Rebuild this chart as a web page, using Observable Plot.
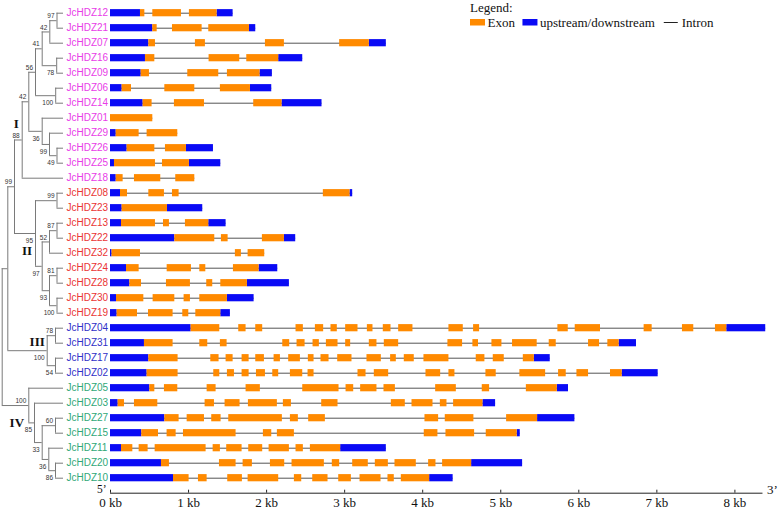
<!DOCTYPE html>
<html><head><meta charset="utf-8">
<script src="https://cdn.jsdelivr.net/npm/d3@7"></script>
<script src="https://cdn.jsdelivr.net/npm/@observablehq/plot@0.6"></script>
<style>
body{margin:0;background:#fff}
#wrap{position:relative;width:778px;height:510px;overflow:hidden}
#wrap svg{position:absolute;left:0;top:0}
</style>
</head><body><div id="wrap"></div>
<script>
// ---------- data ----------
const genes = ["JcHDZ12","JcHDZ21","JcHDZ07","JcHDZ16","JcHDZ09","JcHDZ06","JcHDZ14","JcHDZ01","JcHDZ29","JcHDZ26","JcHDZ25","JcHDZ18",
  "JcHDZ08","JcHDZ23","JcHDZ13","JcHDZ22","JcHDZ32","JcHDZ24","JcHDZ28","JcHDZ30","JcHDZ19",
  "JcHDZ04","JcHDZ31","JcHDZ17","JcHDZ02",
  "JcHDZ05","JcHDZ03","JcHDZ27","JcHDZ15","JcHDZ11","JcHDZ20","JcHDZ10"];
const subfamily = ["I","I","I","I","I","I","I","I","I","I","I","I",
  "II","II","II","II","II","II","II","II","II",
  "III","III","III","III",
  "IV","IV","IV","IV","IV","IV","IV"];
const subfamilyNames = ["I","II","III","IV"];
const subfamilyColors = ["#e83ce8","#ea3434","#3030c8","#30a878"];

// upstream/downstream (UTR) segments in kb, one list per gene
const utrs = [
 [[0,0.384],[1.366,1.571]],
 [[0,0.542],[1.78,1.861]],
 [[0,0.491],[3.316,3.534]],
 [[0,0.448],[2.155,2.463]],
 [[0,0.393],[1.916,2.074]],
 [[0,0.149],[1.793,2.066]],
 [[0,0.418],[2.198,2.71]],
 [],
 [[0,0.073]],
 [[0,0.213],[0.973,1.319]],
 [[0,0.051],[1.011,1.413]],
 [[0,0.073]],
 [[0,0.128],[3.069,3.103]],
 [[0,0.149],[0.73,1.182]],
 [[0,0.141],[1.259,1.481]],
 [[0,0.824],[2.228,2.373]],
 [[0,0.02]],
 [[0,0.205],[1.904,2.143]],
 [[0,0.248],[1.754,2.292]],
 [[0,0.077],[1.498,1.84]],
 [[0,0.085],[1.413,1.536]],
 [[0,1.033],[7.896,8.395]],
 [[0,0.435],[6.517,6.739]],
 [[0,0.491],[5.43,5.634]],
 [[0,0.469],[6.556,7.017]],
 [[0,0.504],[5.725,5.868]],
 [[0,0.098],[4.772,4.934]],
 [[0,0.696],[5.472,5.95]],
 [[0,0.401],[5.211,5.25]],
 [[0,0.141],[2.949,3.534]],
 [[0,0.653],[4.627,5.28]],
 [[0,0.807],[4.089,4.39]]
];

// exon segments in kb, one list per gene
const exons = [
 [[0.384,0.44],[0.542,0.909],[1.011,1.366]],
 [[0.542,0.598],[0.794,1.174],[1.259,1.78]],
 [[0.491,0.576],[1.088,1.216],[1.985,2.228],[2.936,3.316]],
 [[0.448,0.568],[1.263,1.656],[1.746,2.155]],
 [[0.393,0.499],[0.99,1.387],[1.498,1.916]],
 [[0.149,0.269],[0.696,1.08],[1.408,1.793]],
 [[0.418,0.533],[0.819,1.204],[1.835,2.198]],
 [[0,0.542]],
 [[0.073,0.367],[0.469,0.862]],
 [[0.213,0.568],[0.704,0.973]],
 [[0.051,0.576],[0.666,1.011]],
 [[0.073,0.162],[0.307,0.644],[0.836,1.08]],
 [[0.128,0.218],[0.491,0.691],[0.794,0.879],[2.727,3.069]],
 [[0.149,0.73]],
 [[0.141,0.576],[0.679,0.755],[0.96,1.259]],
 [[0.824,1.336],[1.421,1.507],[1.946,2.228]],
 [[0.02,0.384],[1.6,1.677],[1.763,1.976]],
 [[0.205,0.367],[0.726,1.037],[1.144,1.221],[1.575,1.904]],
 [[0.248,0.397],[0.717,1.024],[1.233,1.31],[1.413,1.754]],
 [[0.077,0.427],[0.546,0.824],[0.943,1.024],[1.144,1.498]],
 [[0.085,0.346],[0.487,0.802],[0.926,1.003],[1.093,1.413]],
 [[1.033,1.4],[1.643,1.737],[1.861,1.95],[2.377,2.471],[2.625,2.731],[2.825,2.906],[3.013,3.171],[3.291,3.363],[3.495,3.594],[3.692,3.875],[4.336,4.52],[4.652,4.729],[5.732,5.865],[5.954,6.278],[6.837,6.94],[7.328,7.473],[7.751,7.896]],
 [[0.435,0.802],[1.144,1.246],[1.408,1.494],[2.207,2.296],[2.39,2.493],[2.595,2.676],[2.766,2.915],[3.013,3.077],[3.316,3.414],[3.508,3.692],[4.323,4.511],[4.643,4.715],[4.887,5.015],[5.151,5.467],[5.621,5.711],[6.125,6.266],[6.372,6.517]],
 [[0.491,0.866],[1.285,1.391],[1.481,1.571],[1.686,1.776],[1.861,1.972],[2.096,2.177],[2.283,2.433],[2.535,2.608],[2.697,2.8],[2.911,3.094],[3.286,3.47],[3.589,3.662],[3.764,3.892],[4.016,4.336],[4.686,4.797],[4.904,5.045],[5.289,5.43]],
 [[0.469,0.866],[1.323,1.4],[1.498,1.588],[1.686,1.776],[1.87,1.985],[2.079,2.155],[2.305,2.463],[2.531,2.608],[3.171,3.274],[3.38,3.564],[4.042,4.23],[4.336,4.413],[4.81,4.942],[5.245,5.575],[5.741,5.839],[5.976,6.125],[6.406,6.556]],
 [[0.504,0.568],[0.691,0.862],[1.238,1.353],[1.737,1.92],[2.463,2.928],[3.018,3.116],[3.205,3.414],[3.504,3.65],[4.166,4.431],[4.763,4.857],[5.328,5.725]],
 [[0.098,0.179],[0.307,0.606],[1.212,1.332],[1.468,1.66],[1.767,2.138],[2.215,2.318],[2.706,2.915],[3.598,3.777],[3.863,4.132],[4.226,4.311],[4.396,4.772]],
 [[0.696,0.879],[0.982,1.204],[1.297,1.417],[1.515,2.202],[2.305,2.407],[2.539,2.753],[4.029,4.204],[4.289,4.656],[5.075,5.472]],
 [[0.401,0.615],[0.725,0.841],[0.935,1.609],[1.959,2.066],[2.138,2.356],[4.02,4.195],[4.298,4.665],[4.814,5.211]],
 [[0.141,0.286],[0.367,0.482],[0.572,1.225],[1.315,1.408],[1.489,1.686],[1.771,1.95],[2.032,2.292],[2.377,2.471],[2.561,2.949]],
 [[0.653,0.755],[1.396,1.609],[1.699,1.818],[2.049,2.232],[2.326,2.74],[2.842,2.936],[3.103,3.303],[3.393,3.56],[3.645,3.918],[4.076,4.17],[4.255,4.627]],
 [[0.807,1.007],[1.127,1.238],[1.502,1.69],[1.763,2.155],[2.356,2.45],[2.591,2.787],[2.924,3.086],[3.197,3.466],[3.555,3.636],[3.726,4.089]]
];

// tree: internal nodes [id, child A, child B, bootstrap, node depth] (children listed before parents)
const treeNodes = [
 ["n1","JcHDZ12","JcHDZ21",97,54.8],
 ["n2","n1","JcHDZ07",42,47.6],
 ["n3","JcHDZ16","JcHDZ09",78,54.5],
 ["n4","n2","n3",41,40],
 ["n5","JcHDZ06","JcHDZ14",100,53.5],
 ["n6","n4","n5",56,33.3],
 ["n7","JcHDZ26","JcHDZ25",49,54.8],
 ["n8","JcHDZ29","n7",99,47.3],
 ["n9","JcHDZ01","n8",36,40],
 ["n10","n6","n9",42,26.6],
 ["nI","n10","JcHDZ18",88,20],
 ["n12","JcHDZ08","JcHDZ23",99,54.8],
 ["n13","JcHDZ13","JcHDZ22",87,54.8],
 ["n14","n13","JcHDZ32",52,47.3],
 ["n15","JcHDZ24","JcHDZ28",81,54.8],
 ["n16","JcHDZ30","JcHDZ19",100,54.8],
 ["n17","n15","n16",93,47.3],
 ["n18","n14","n17",97,40],
 ["nII","n12","n18",95,33.3],
 ["nI_II","nI","nII",99,12.3],
 ["n21","JcHDZ04","JcHDZ31",78,53.3],
 ["n22","JcHDZ17","JcHDZ02",54,53.3],
 ["nIII","n21","n22",100,45],
 ["n24","nI_II","nIII",null,5.6],
 ["n25","JcHDZ20","JcHDZ10",86,53.3],
 ["n26","JcHDZ11","n25",36,46.6],
 ["n27","JcHDZ27","JcHDZ15",60,53.3],
 ["n28","n27","n26",33,40],
 ["n29","JcHDZ03","n28",85,32.3],
 ["nIV","JcHDZ05","n29",100,26.6],
 ["root","n24","nIV",null,0]
];
const leafDepth = 61.3;
// bootstrap values printed below their node's branch (others above)
const bootBelow = ["n3","n5","n7","n8","n9","nII","n18","n17","n16","nIII","n22","n29","n28","n26","n25"];
// subfamily labels attached to nodes
const cladeLabels = [["I","nI"],["II","nII"],["III","nIII"],["IV","nIV"]];
const kbTicks = [0,1,2,3,4,5,6,7,8];
const axisEndKb = 8.36;

// ---------- layout helpers ----------
const PX_PER_KB = 78.05, ORIGIN_PX = 110, ROOT_PX = 1.7;
const depthToKb = d => (ROOT_PX + d - ORIGIN_PX) / PX_PER_KB;
const colorOf = Object.fromEntries(subfamilyNames.map((s,i)=>[s,subfamilyColors[i]]));

const pos = new Map();
genes.forEach((g,i)=>pos.set(g,{x:leafDepth,y:i}));
for (const [id,a,b,boot,depth] of treeNodes) {
  pos.set(id,{x:depth,y:(pos.get(a).y+pos.get(b).y)/2});
}
const vLinks = [], hLinks = [], boots = [];
for (const [id,a,b,boot,depth] of treeNodes) {
  const pa = pos.get(a), pb = pos.get(b), p = pos.get(id);
  vLinks.push({x:depthToKb(depth), y1:pa.y, y2:pb.y});
  for (const c of [pa,pb]) hLinks.push({y:c.y, x1:depthToKb(depth), x2:depthToKb(c.x)});
  if (boot != null) boots.push({x:depthToKb(depth), y:p.y, text:String(boot), below:bootBelow.includes(id)});
}

const labelRows = genes.map((g,i)=>({g, i, sub:subfamily[i]}));
const segs = [];
genes.forEach((g,i)=>{
  for (const [s,e] of utrs[i]) segs.push({i, x1:s, x2:e, kind:"upstream/downstream"});
  for (const [s,e] of exons[i]) segs.push({i, x1:s, x2:e, kind:"Exon"});
});
const geneSpan = genes.map((g,i)=>{
  const all = [...utrs[i], ...exons[i]];
  return {i, x1:d3.min(all,d=>d[0]), x2:d3.max(all,d=>d[1])};
});

// clade label offsets (px) relative to their node
const cladeOffset = {I:[-6,-16.5], II:[-8.5,17.5], III:[-10,-8.5], IV:[-12,17.5]};

const SERIF = "'Liberation Serif','Times New Roman',serif";
const SANS = "'Liberation Sans',Arial,sans-serif";

const marks = [
  // tree
  Plot.ruleX(vLinks, {x:"x", y1:"y1", y2:"y2", stroke:"#7a7a7a", strokeWidth:1}),
  Plot.ruleY(hLinks, {y:"y", x1:"x1", x2:"x2", stroke:"#7a7a7a", strokeWidth:1}),
  Plot.text(boots.filter(d=>!d.below), {x:"x", y:"y", text:"text", textAnchor:"end", dx:-2.5, dy:-4.5, fontSize:6.5, fill:"#333"}),
  Plot.text(boots.filter(d=>d.below), {x:"x", y:"y", text:"text", textAnchor:"end", dx:-2.5, dy:7.5, fontSize:6.5, fill:"#333"}),
  ...cladeLabels.map(([lab,node])=>Plot.text([pos.get(node)], {
    x:d=>depthToKb(d.x), y:"y", text:()=>lab, dx:cladeOffset[lab][0], dy:cladeOffset[lab][1],
    fontFamily:SERIF, fontWeight:"bold", fontSize:13, fill:"#111"})),
  // gene labels
  Plot.text(labelRows, {x:()=>depthToKb(leafDepth), y:"i", text:"g", textAnchor:"start", dx:3, fontSize:10, fontFamily:SANS, fill:d=>colorOf[d.sub]}),
  // gene structures
  Plot.ruleY(geneSpan, {y:"i", x1:"x1", x2:"x2", stroke:"#555", strokeWidth:1}),
  Plot.rect(segs, {x1:"x1", x2:"x2", y1:d=>d.i-0.5, y2:d=>d.i+0.5, insetTop:3.9, insetBottom:3.9, fill:d=>d.kind==="Exon"?"#ff8a00":"#0a0af5"}),
  // kb axis
  Plot.ruleY([genes.length], {x1:()=>0, x2:()=>axisEndKb, stroke:"#222", strokeWidth:1}),
  Plot.ruleX(kbTicks, {x:d=>d, y1:()=>genes.length-0.2, y2:()=>genes.length, stroke:"#222"}),
  Plot.text(kbTicks, {x:d=>d, y:()=>genes.length, text:d=>`${d} kb`, dy:9.5, fontFamily:SERIF, fontSize:13, fill:"#111"}),
  Plot.text(["5\u2019"], {x:()=>0, y:()=>genes.length, text:d=>d, textAnchor:"end", dx:-4, dy:-3.5, fontFamily:SERIF, fontSize:11.5, fill:"#111"}),
  Plot.text(["3\u2019"], {x:()=>axisEndKb, y:()=>genes.length, text:d=>d, textAnchor:"start", dx:4, dy:-3, fontFamily:SERIF, fontSize:13, fill:"#111"})
];

const chart = Plot.plot({
  width:778, height:510,
  margin:0,
  style:{fontFamily:SANS, background:"transparent"},
  x:{domain:[0,8], range:[ORIGIN_PX, ORIGIN_PX+8*PX_PER_KB], axis:null},
  y:{domain:[0,genes.length-1], range:[12.7,477.7], axis:null},
  marks
});
const wrap = document.getElementById("wrap");
wrap.appendChild(chart);

// legend overlay
const legendItems = [
  {label:"Exon", kind:"rect", color:"#ff8a00"},
  {label:"upstream/downstream", kind:"rect", color:"#0a0af5"},
  {label:"Intron", kind:"line", color:"#222"}
];
const gaps = [7.5, 9];
const leg = d3.create("svg").attr("width",778).attr("height",32)
  .style("font-family",SERIF).style("font-size","13px");
leg.append("text").attr("x",470).attr("y",11.5).attr("fill","#111").text("Legend:");
const shapes = [], texts = [];
legendItems.forEach(it=>{
  shapes.push(it.kind==="rect"
    ? leg.append("rect").attr("y",19).attr("width",15).attr("height",6.5).attr("fill",it.color).node()
    : leg.append("line").attr("y1",22.5).attr("y2",22.5).attr("stroke",it.color).node());
  texts.push(leg.append("text").attr("y",26.5).attr("fill","#111").text(it.label).node());
});
wrap.appendChild(leg.node());
{
  let x = 470;
  legendItems.forEach((it,k)=>{
    const sh = shapes[k];
    if (it.kind==="rect") sh.setAttribute("x",x); else {sh.setAttribute("x1",x); sh.setAttribute("x2",x+14);}
    const tx = x + (it.kind==="rect"?17.5:18);
    texts[k].setAttribute("x",tx);
    x = tx + texts[k].getComputedTextLength() + (gaps[k]||0);
  });
}
</script>
</body></html>
